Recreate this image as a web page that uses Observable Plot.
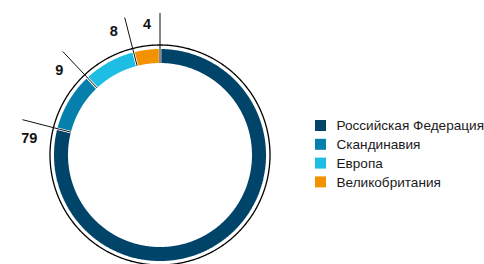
<!DOCTYPE html>
<html>
<head>
<meta charset="utf-8">
<script src="https://cdn.jsdelivr.net/npm/d3@7"></script>
<script src="https://cdn.jsdelivr.net/npm/@observablehq/plot@0.6"></script>
<style>
  html, body { margin: 0; padding: 0; background: #fff; }
  #chart { width: 484px; height: 264px; }
</style>
</head>
<body>
<div id="chart"></div>
<script>
// ---- data ----
const categories = ["Российская Федерация", "Скандинавия", "Европа", "Великобритания"];
const values = [79, 9, 8, 4];
const colors = ["#00446a", "#0580ad", "#1dbde4", "#f39200"];

// ---- layout ----
const W = 484, H = 264;
const cx = 159.5, cy = 154.5;
const rOuter = 107.2, rInner = 90.8;   // ring (white stroke trims ~1.2px each side)
const rFrame = 110;                     // thin black outer circle
const rLine0 = 92, rLine1 = 142;        // leader lines
const rLabel = 130.8, labelGap = 9;
const labelSize = 14.5;

const total = d3.sum(values);
const pt = (r, deg) => {
  const a = deg * Math.PI / 180;
  return [cx + r * Math.sin(a), cy - r * Math.cos(a)];
};

// slices (clockwise from 12 o'clock)
let acc = 0;
const slices = categories.map((c, i) => {
  const a0 = acc / total * 360;
  acc += values[i];
  const a1 = acc / total * 360;
  return {cat: c, value: values[i], a0, a1};
});

const polyPts = [];
for (const s of slices) {
  const n = Math.max(2, Math.ceil((s.a1 - s.a0) / 0.5));
  const ring = [];
  for (let k = 0; k <= n; k++) ring.push(pt(rOuter, s.a0 + (s.a1 - s.a0) * k / n));
  for (let k = n; k >= 0; k--) ring.push(pt(rInner, s.a0 + (s.a1 - s.a0) * k / n));
  ring.push(ring[0]);
  for (const [x, y] of ring) polyPts.push({cat: s.cat, x, y});
}

const frame = d3.range(0, 361, 0.5).map(a => { const [x, y] = pt(rFrame, a); return {x, y}; });

const leaders = slices.map(s => {
  const [x1, y1] = pt(rLine0, s.a1);
  const [x2, y2] = pt(rLine1, s.a1);
  const [lx, ly] = pt(rLabel, s.a1);
  const t = s.a1 * Math.PI / 180;
  // counter-clockwise tangent
  const tx = -Math.cos(t), ty = -Math.sin(t);
  const txt = String(s.value);
  const hw = txt.length * labelSize * 0.556 / 2, hh = labelSize * 0.716 / 2;
  const shift = labelGap + Math.abs(tx) * hw + Math.abs(ty) * hh;
  return {x1, y1, x2, y2, lx: lx + tx * shift, ly: ly + ty * shift, value: txt};
});

const legendX = 315, legendY0 = 125.5, legendStep = 18.8, sq = 11;
const legend = categories.map((c, i) => ({cat: c, y: legendY0 + i * legendStep}));

const chart = Plot.plot({
  width: W, height: H, margin: 0,
  style: {fontFamily: "'Liberation Sans', Arial, sans-serif", background: "#fff"},
  x: {domain: [0, W], range: [0, W], axis: null},
  y: {domain: [0, H], range: [0, H], axis: null},
  color: {domain: categories, range: colors},
  marks: [
    Plot.line(frame, {x: "x", y: "y", stroke: "#000", strokeWidth: 1.3}),
    Plot.line(polyPts, {x: "x", y: "y", z: "cat", fill: "cat", stroke: "#fff", strokeWidth: 2.4, strokeLinejoin: "miter", curve: "linear"}),
    Plot.link(leaders, {x1: "x1", y1: "y1", x2: "x2", y2: "y2", stroke: "#111", strokeWidth: 1}),
    Plot.text(leaders, {x: "lx", y: "ly", text: "value", fontSize: labelSize, fontWeight: "bold", fill: "#111", textAnchor: "middle"}),
    Plot.rect(legend, {x1: () => legendX, x2: () => legendX + sq, y1: d => d.y - sq / 2, y2: d => d.y + sq / 2, fill: "cat"}),
    Plot.text(legend, {x: () => legendX + 21, y: "y", text: "cat", textAnchor: "start", fontSize: 13.6, fill: "#1a1a1a"})
  ]
});
document.getElementById("chart").appendChild(chart);
</script>
</body>
</html>
